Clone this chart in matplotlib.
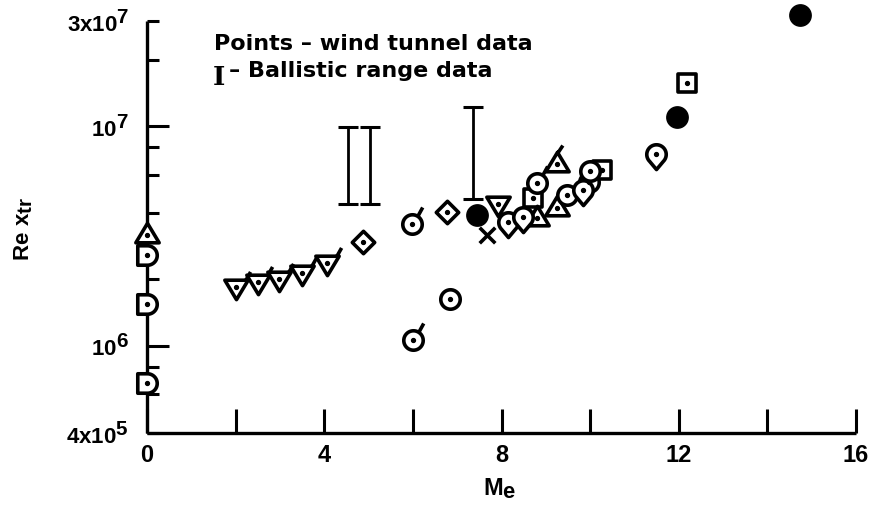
import numpy as np
import matplotlib
matplotlib.use("Agg")
import matplotlib.pyplot as plt
from matplotlib.path import Path
from matplotlib.ticker import FixedLocator, FixedFormatter
try:
    import matplotlib._mathtext as _mt
    _mt.SHRINK_FACTOR = 0.93   # the original uses near full-size super/subscripts
except Exception:
    pass

plt.rcParams['font.family'] = ['Liberation Sans', 'DejaVu Sans']
plt.rcParams['font.weight'] = 'bold'
plt.rcParams['mathtext.fontset'] = 'custom'
plt.rcParams['mathtext.rm'] = 'Liberation Sans:bold'
plt.rcParams['mathtext.it'] = 'Liberation Sans:bold'
plt.rcParams['mathtext.bf'] = 'Liberation Sans:bold'
plt.rcParams['mathtext.default'] = 'rm'

# ---------------- data (M_e, Re_xtr) ----------------
dshape_M = [0.0, 0.0, 0.0]
dshape_Re = [2.58e6, 1.55e6, 6.73e5]
triup_M = [0.0, 8.79, 9.25]
triup_Re = [3.18e6, 3.80e6, 4.21e6]
triup_flag_M = [9.25]
triup_flag_Re = [6.70e6]
tridown_flag_M = [2.01, 2.51, 2.98, 3.49, 4.06]
tridown_flag_Re = [1.84e6, 1.95e6, 2.00e6, 2.15e6, 2.37e6]
tridown_M = [7.93]
tridown_Re = [4.41e6]
diamond_M = [4.88, 6.78]
diamond_Re = [2.97e6, 4.06e6]
circle_flag_M = [5.97, 6.01, 8.79]
circle_flag_Re = [3.57e6, 1.06e6, 5.51e6]
circle_M = [6.84, 9.98, 9.47, 10.0]
circle_Re = [1.63e6, 5.55e6, 4.84e6, 6.25e6]
tear_M = [8.14, 8.49, 9.85, 11.48]
tear_Re = [3.66e6, 3.84e6, 5.10e6, 7.45e6]
square_M = [10.26, 8.72, 12.19]
square_Re = [6.29e6, 4.68e6, 1.56e7]
filled_M = [7.44, 11.95, 14.74]
filled_Re = [3.93e6, 1.10e7, 3.2e7]
cross_M = [7.68]
cross_Re = [3.18e6]
# ballistic range data (vertical bars)
ballistic_M = [4.54, 5.03, 7.36]
ballistic_lo = [4.41e6, 4.41e6, 4.66e6]
ballistic_hi = [9.9e6, 9.9e6, 1.215e7]

x_major = [0, 4, 8, 12, 16]
x_minor = [2, 6, 10, 14]
y_major = [1e6, 1e7]
y_major_labels = ['$10^6$', '$10^7$']
y_minor = [4e5, 6e5, 8e5, 2e6, 4e6, 6e6, 8e6, 2e7, 3e7]
y_minor_labels = ['$4x10^5$', '', '', '', '', '', '', '', '$3x10^7$']

# ---------------- marker shapes ----------------
R = 2.0  # common bounding extent for all marker paths


def arc(a0, a1, r=1.0, cx=0.0, cy=0.0, n=40):
    t = np.radians(np.linspace(a0, a1, n))
    return np.column_stack([cx + r * np.cos(t), cy + r * np.sin(t)])


def mk(closed=(), opened=()):
    verts = [(R, R), (-R, -R)]
    codes = [Path.MOVETO, Path.MOVETO]
    for p in closed:
        p = [tuple(v) for v in p]
        verts += p + [p[0]]
        codes += [Path.MOVETO] + [Path.LINETO] * (len(p) - 1) + [Path.CLOSEPOLY]
    for l in opened:
        l = [tuple(v) for v in l]
        verts += l
        codes += [Path.MOVETO] + [Path.LINETO] * (len(l) - 1)
    return Path(verts, codes)


circ = arc(0, 360)[:-1]
P_circle = mk([circ])
P_circle_flag = mk([circ], [[(0.55, 0.84), (1.05, 1.75)]])
P_square = mk([[(-0.95, -0.95), (0.95, -0.95), (0.95, 0.95), (-0.95, 0.95)]])
P_diamond = mk([[(0, 1.15), (1.15, 0), (0, -1.15), (-1.15, 0)]])
tri_up = [(0, 1.25), (1.2, -0.75), (-1.2, -0.75)]
tri_dn = [(0, -1.25), (1.2, 0.75), (-1.2, 0.75)]
P_triup = mk([tri_up])
P_triup_flag = mk([tri_up], [[(0.05, 1.2), (0.55, 1.95)]])
P_tridown = mk([tri_dn])
P_tridown_flag = mk([tri_dn], [[(1.0, 0.8), (1.45, 1.6)]])
dsh = np.vstack([[(0, -1.0), (-1.0, -1.0), (-1.0, 1.0), (0, 1.0)], arc(90, -90)[1:-1]])
P_dshape = mk([dsh])
tear = np.vstack([[(0, -1.55)], arc(-45, 225)])
P_tear = mk([tear])
P_filled = mk([arc(0, 360, r=1.1)[:-1]])
P_cross = mk([], [[(-0.8, -0.8), (0.8, 0.8)], [(-0.8, 0.8), (0.8, -0.8)]])

# ---------------- figure ----------------
fig = plt.figure(figsize=(8.75, 5.08), dpi=100)
ax = fig.add_axes([147 / 875, 1 - 433 / 508, (856 - 147) / 875, (433 - 21) / 508])
ax.set_yscale('log')
ax.set_xlim(0, 16)
ax.set_ylim(4e5, 3e7)

for s in ['top', 'right']:
    ax.spines[s].set_visible(False)
for s in ['left', 'bottom']:
    ax.spines[s].set_linewidth(2.4)
    ax.spines[s].set_capstyle('butt')

ax.xaxis.set_major_locator(FixedLocator(x_major))
ax.xaxis.set_minor_locator(FixedLocator(x_minor))
ax.set_xticklabels([str(v) for v in x_major])
ax.yaxis.set_major_locator(FixedLocator(y_major))
ax.yaxis.set_major_formatter(FixedFormatter(y_major_labels))
ax.yaxis.set_minor_locator(FixedLocator(y_minor))
ax.yaxis.set_minor_formatter(FixedFormatter(y_minor_labels))

ax.tick_params(axis='x', which='both', direction='in', length=17, width=2.2,
               pad=8, labelsize=17)
ax.tick_params(axis='y', which='major', direction='in', length=16, width=2.2,
               pad=13, labelsize=16)
ax.tick_params(axis='y', which='minor', direction='in', length=8.5, width=2.2,
               pad=13, labelsize=16)

MS = 28  # marker size in points (bounding box of R)
MEW = 2.6

# ballistic range bars
lo = np.array(ballistic_lo)
hi = np.array(ballistic_hi)
ax.errorbar(ballistic_M, lo, yerr=[np.zeros_like(lo), hi - lo], fmt='none',
            ecolor='black', elinewidth=2.0, capsize=7.5, capthick=2.2, zorder=2)

common = dict(linestyle='none', markerfacecolor='white', markeredgecolor='black',
              markeredgewidth=MEW, markersize=MS, clip_on=False, zorder=3)

ax.plot(square_M, square_Re, marker=P_square, **common)
ax.plot(dshape_M, dshape_Re, marker=P_dshape, **common)
ax.plot(triup_M, triup_Re, marker=P_triup, **common)
ax.plot(triup_flag_M, triup_flag_Re, marker=P_triup_flag, **common)
ax.plot(tridown_flag_M, tridown_flag_Re, marker=P_tridown_flag, **common)
ax.plot(tridown_M, tridown_Re, marker=P_tridown, **common)
ax.plot(diamond_M, diamond_Re, marker=P_diamond, **common)
ax.plot(circle_flag_M, circle_flag_Re, marker=P_circle_flag, **common)
ax.plot(circle_M, circle_Re, marker=P_circle, **common)
ax.plot(tear_M, tear_Re, marker=P_tear, **common)
ax.plot(cross_M, cross_Re, marker=P_cross, **common)
ax.plot(filled_M, filled_Re, marker=P_filled, linestyle='none',
        markerfacecolor='black', markeredgecolor='black', markeredgewidth=1,
        markersize=MS, clip_on=False, zorder=4)

# centre dots of the open symbols
dot_M = (dshape_M + triup_M + triup_flag_M + tridown_flag_M + tridown_M + diamond_M
         + circle_flag_M + circle_M + tear_M + square_M)
dot_Re = (dshape_Re + triup_Re + triup_flag_Re + tridown_flag_Re + tridown_Re + diamond_Re
          + circle_flag_Re + circle_Re + tear_Re + square_Re)
ax.plot(dot_M, dot_Re, linestyle='none', marker='o', markersize=2.8,
        markerfacecolor='black', markeredgecolor='black', clip_on=False, zorder=5)

# axis titles
fig.text(500 / 875, 1 - 489 / 508, r'$M_e$', fontsize=17, ha='center', va='center')
fig.text(24 / 875, 1 - 229 / 508, r'$Re\ x_{tr}$', fontsize=16, rotation=90,
         ha='center', va='center')

# key text
fig.text(214 / 875, 1 - 50 / 508, 'Points – wind tunnel data', fontsize=16,
         family='DejaVu Sans', fontweight='bold', ha='left', va='baseline')
fig.text(213 / 875, 1 - 85 / 508, 'I', fontsize=19, family='DejaVu Serif',
         fontweight='bold', ha='left', va='baseline')
fig.text(229 / 875, 1 - 77 / 508, '– Ballistic range data', fontsize=16,
         family='DejaVu Sans', fontweight='bold', ha='left', va='baseline')

fig.savefig('out.png', dpi=100)
